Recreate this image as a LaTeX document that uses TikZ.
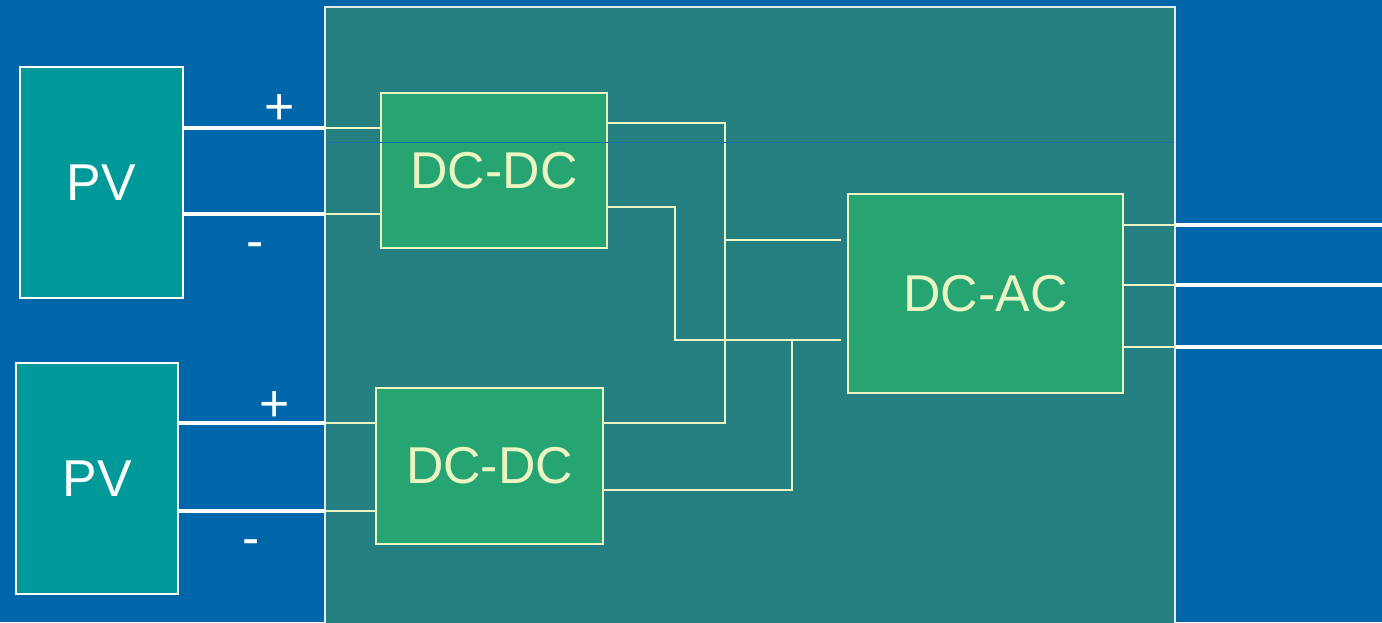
\documentclass[tikz,border=0pt]{standalone}
\usepackage{fontspec}
\setmainfont{Liberation Sans}
\definecolor{bgblue}{HTML}{0066AA}
\definecolor{panel}{HTML}{267F80}
\definecolor{pvfill}{HTML}{009999}
\definecolor{boxfill}{HTML}{26A573}
\definecolor{pale}{HTML}{EAF5C2}
\definecolor{seam}{HTML}{1A72A0}
\begin{document}
\begin{tikzpicture}[x=0.02cm,y=-0.02cm,
  pvbox/.style={draw=white,line width=1.2pt,fill=pvfill,inner sep=0pt,text=white,font=\fontsize{29.5}{32}\selectfont},
  conv/.style={draw=pale,line width=1.6pt,fill=boxfill,inner sep=0pt,text=pale,font=\fontsize{29.5}{32}\selectfont},
  wline/.style={draw=white,line width=1.9pt},
  yline/.style={draw=pale,line width=1.6pt},
  ythin/.style={draw=pale,line width=0.8pt},
  sign/.style={text=white,font=\fontsize{29.5}{32}\selectfont,inner sep=0pt}]
\useasboundingbox (0,0) rectangle (1382,622);
\fill[bgblue] (0,0) rectangle (1382,622);
\path[fill=panel,draw=white!85!panel,line width=1.2pt] (325,7) rectangle (1175,640);

% boxes
\node[pvbox,minimum width=3.26cm,minimum height=4.62cm] (pv1) at (101.5,182.5) {PV};
\node[pvbox,minimum width=3.24cm,minimum height=4.62cm] (pv2) at (97,478.5) {PV};
\node[conv,minimum width=4.52cm,minimum height=3.10cm] (dc1) at (494,170.5) {DC-DC};
\node[conv,minimum width=4.54cm,minimum height=3.12cm] (dc2) at (489.5,466) {DC-DC};
\node[conv,minimum width=5.50cm,minimum height=3.98cm] (dcac) at (985.5,293.5) {DC-AC};

% signs
\node[sign] (s1p) at (280,110) {+};
\node[sign] (s1m) at (255,251) {-};
\node[sign] (s2p) at (275,407) {+};
\node[sign] (s2m) at (251,548) {-};

% PV inputs
\coordinate (a1) at (325,128);
\coordinate (a2) at (325,214);
\coordinate (b1) at (325,423);
\coordinate (b2) at (325,511);
\draw[wline] (pv1.east |- a1) -- (a1);
\draw[yline] (a1) -- (dc1.west |- a1);
\draw[wline] (pv1.east |- a2) -- (a2);
\draw[yline] (a2) -- (dc1.west |- a2);
\draw[wline] (pv2.east |- b1) -- (b1);
\draw[yline] (b1) -- (dc2.west |- b1);
\draw[wline] (pv2.east |- b2) -- (b2);
\draw[yline] (b2) -- (dc2.west |- b2);

% DC bus
\coordinate (t1) at (725,123);
\coordinate (t2) at (725,423);
\coordinate (tm) at (725,240);
\coordinate (m1) at (675,207);
\coordinate (m2) at (675,340);
\coordinate (n1) at (792,490);
\coordinate (n2) at (792,340);
\draw[yline] (dc1.east |- t1) -- (t1) -- (t2) -- (dc2.east |- t2);
\draw[yline] (dc1.east |- m1) -- (m1) -- (m2) -- ([xshift=-0.12cm]dcac.west |- m2);
\draw[yline] (dc2.east |- n1) -- (n1) -- (n2);
\draw[ythin] (tm) -- ([xshift=-0.12cm]dcac.west |- tm);

% AC outputs
\coordinate (o1) at (1175,225);
\coordinate (o2) at (1175,285);
\coordinate (o3) at (1175,347);
\coordinate (e1) at (1382,225);
\coordinate (e2) at (1382,285);
\coordinate (e3) at (1382,347);
\draw[yline] (dcac.east |- o1) -- (o1);
\draw[yline] (dcac.east |- o2) -- (o2);
\draw[yline] (dcac.east |- o3) -- (o3);
\draw[wline] (o1) -- (e1);
\draw[wline] (o2) -- (e2);
\draw[wline] (o3) -- (e3);

% faint seam
\draw[seam,line width=0.4pt] (326,142) -- (1174,142);
\end{tikzpicture}
\end{document}
